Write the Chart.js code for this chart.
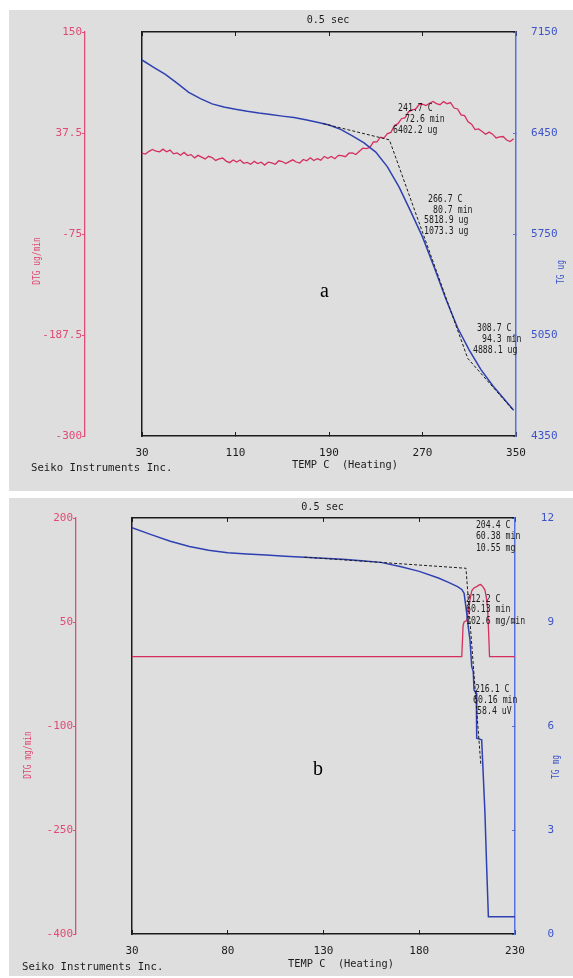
<!DOCTYPE html>
<html><head><meta charset="utf-8">
<script src="https://cdn.jsdelivr.net/npm/chart.js@4.4.1/dist/chart.umd.min.js"></script>
<style>
html,body{margin:0;padding:0;background:#fff;width:573px;height:978px;overflow:hidden;}
canvas{position:absolute;background:#dedede;}
#ca{left:9px;top:10px;}
#cb{left:9px;top:498px;}
</style></head><body>
<canvas id="ca" width="564" height="481"></canvas>
<canvas id="cb" width="564" height="478"></canvas>
<script>
// ---------- Panel a data ----------
const xTicksA = [30, 110, 190, 270, 350];
const dtgTicksA = [150, 37.5, -75, -187.5, -300];
const tgTicksA = [7150, 6450, 5750, 5050, 4350];

const tempA_TG = [30,40,50,60,70,80,90,100,110,120,130,140,150,160,170,180,190,200,210,220,230,240,250,260,270,280,290,300,310,320,330,340,348];
const tgA = [6956,6905,6856,6795,6732,6688,6652,6630,6614,6600,6588,6578,6567,6557,6542,6525,6505,6475,6430,6382,6318,6215,6075,5905,5730,5520,5300,5100,4945,4810,4700,4605,4528];

const tempA_DTG = [30,33,36,39,42,45,48,51,54,57,60,63,66,69,72,75,78,81,84,87,90,93,96,99,102,105,108,111,114,117,120,123,126,129,132,135,138,141,144,147,150,153,156,159,162,165,168,171,174,177,180,183,186,189,192,195,198,201,204,207,210,213,216,219,222,225,228,231,234,237,240,243,246,249,252,255,258,261,264,267,270,273,276,279,282,285,288,291,294,297,300,303,306,309,312,315,318,321,324,327,330,333,336,339,342,345,348];
const dtgA = [15.2,14.0,17.1,19.1,17.2,16.5,19.5,16.6,18.4,14.3,15.3,12.7,15.9,12.4,13.4,9.8,12.6,10.7,8.6,11.5,10.2,7.0,8.6,9.6,6.2,4.5,7.5,5.1,7.4,3.8,4.8,2.7,5.9,3.4,4.9,1.8,5.1,4.2,2.6,6.5,5.7,3.5,5.6,7.6,5.2,4.0,8.0,6.6,9.9,6.8,8.8,7.2,11.4,9.4,11.4,8.8,12.6,12.2,11.1,15.0,15.2,13.5,17.1,20.6,20.2,21.5,27.5,27.6,32.9,31.8,36.8,38.2,45.9,47.9,53.4,54.3,61.1,63.2,64.1,69.0,69.7,68.0,70.6,72.6,70.2,69.0,72.5,70.1,71.4,65.3,64.3,57.7,56.9,49.9,47.4,41.3,42.1,39.2,36.1,38.5,36.2,32.0,33.1,33.6,29.7,28.0,31.0];

const tanA_T = [185, 241.7, 308.7, 348];
const tanA_TG = [6515, 6402.2, 4888.1, 4525];

const notesA = [
  ['241.7 C', 249.1, 6623], ['72.6 min', 255.1, 6547], ['6402.2 ug', 244.8, 6471],
  ['266.7 C', 274.7, 5993], ['80.7 min', 279.0, 5916], ['5818.9 ug', 271.3, 5842], ['1073.3 ug', 271.3, 5771],
  ['308.7 C', 316.6, 5098], ['94.3 min', 320.9, 5022], ['4888.1 ug', 313.2, 4946]
];

// ---------- Panel b data ----------
const xTicksB = [30, 80, 130, 180, 230];
const dtgTicksB = [200, 50, -100, -250, -400];
const tgTicksB = [12, 9, 6, 3, 0];

const tempB_TG = [30,40,50,60,70,80,90,100,110,120,130,140,150,160,170,180,190,195,200,202.2,203.4,203.9,204.8,205.6,206.5,207.4,208.2,208.6,209.8,210,212.6,214.3,215.2,216.1,230];
const tgB = [11.72,11.52,11.33,11.18,11.07,11.0,10.96,10.93,10.9,10.87,10.84,10.81,10.77,10.72,10.6,10.46,10.27,10.15,10.02,9.94,9.83,9.63,9.25,8.86,8.48,7.71,7.57,7.04,6.95,5.65,5.6,3.5,1.94,0.5,0.5];

const tempB_DTG = [30,202.2,202.9,203.4,204.8,205.6,206.5,207.4,208.5,210,211.3,212.1,213.2,214.3,215,215.7,216.3,216.7,230];
const dtgB = [0,0,45,50,52,65,82,95,99,101,103.5,104,101,96,86,70,30,0,0];

const tanB_T = [120, 204.4, 212.2];
const tanB_TG = [10.87, 10.55, 4.85];

const notesB = [
  ['204.4 C', 209.6, 11.80], ['60.38 min', 209.6, 11.46], ['10.55 mg', 209.6, 11.13],
  ['212.2 C', 204.4, 9.66], ['60.13 min', 204.4, 9.35], ['102.6 mg/min', 204.4, 9.03],
  ['216.1 C', 209.1, 7.07], ['60.16 min', 208.1, 6.75], ['58.4 uV', 210.2, 6.43]
];

// ---------- styling ----------
const RED = '#d42f5e', RED_AX = '#de4d78', RED_TXT = '#e04a74';
const BLUE = '#2f40b2', BLUE_AX = '#5572dc', BLUE_TXT = '#3d54c9';
const INK = '#1c1c1c';
const MONO = "'DejaVu Sans Mono', 'Liberation Mono', monospace";

function pts(xs, ys) { return xs.map((x, i) => ({ x: x, y: ys[i] })); }

function txt(ctx, s, x, y, o) {
  ctx.save();
  ctx.translate(x, y);
  if (o.rot) ctx.rotate(o.rot);
  ctx.scale(o.sx || 1, 1);
  ctx.font = (o.weight || 'normal') + ' ' + o.size + 'px ' + (o.family || MONO);
  ctx.fillStyle = o.color || INK;
  ctx.textAlign = o.align || 'left';
  ctx.textBaseline = 'middle';
  ctx.fillText(s, 0, 0);
  ctx.restore();
}

function noPad(s) { s.paddingTop = 0; s.paddingBottom = 0; s.paddingLeft = 0; s.paddingRight = 0; }

function panel(id, P) {
  const textPlugin = {
    id: 'txt_' + id,
    afterDraw(chart) {
      const ctx = chart.ctx, sx = chart.scales.x, sy = chart.scales.yTG;
      P.notes.forEach(n => txt(ctx, n[0], sx.getPixelForValue(n[1]), sy.getPixelForValue(n[2]), { size: 10, sx: 0.82, color: INK }));
      txt(ctx, '0.5 sec', P.secPos[0], P.secPos[1], { size: 11, sx: 0.92, align: 'center' });
      txt(ctx, 'TEMP C  (Heating)', P.tempPos[0], P.tempPos[1], { size: 11, sx: 0.94, align: 'center' });
      txt(ctx, 'Seiko Instruments Inc.', P.seikoPos[0], P.seikoPos[1], { size: 11, sx: 0.97, align: 'left' });
      txt(ctx, P.letter, P.letterPos[0], P.letterPos[1], { size: 20, family: "'Liberation Serif', 'DejaVu Serif', serif", align: 'center', color: '#000' });
      txt(ctx, P.leftTitle, P.leftTitlePos[0], P.leftTitlePos[1], { size: 11, sx: 0.72, align: 'center', rot: -Math.PI / 2, color: RED_TXT });
      txt(ctx, P.rightTitle, P.rightTitlePos[0], P.rightTitlePos[1], { size: 11, sx: 0.72, align: 'center', rot: -Math.PI / 2, color: BLUE_TXT });
    }
  };
  const tickFont = { family: MONO, size: 11 };
  return new Chart(document.getElementById(id), {
    type: 'line',
    data: {
      datasets: [
        { data: pts(P.tanT, P.tanV), yAxisID: 'yTG', borderColor: INK, borderWidth: 1, borderDash: [3, 2], pointRadius: 0, order: 0 },
        { data: pts(P.tgT, P.tg), yAxisID: 'yTG', borderColor: BLUE, borderWidth: 1.5, pointRadius: 0, order: 1 },
        { data: pts(P.dtgT, P.dtg), yAxisID: 'yDTG', borderColor: RED, borderWidth: 1.3, pointRadius: 0, order: 2 }
      ]
    },
    options: {
      responsive: false, animation: false, events: [],
      layout: { autoPadding: false, padding: { left: 0, right: P.padR, top: P.padT, bottom: 0 } },
      plugins: { legend: { display: false }, tooltip: { enabled: false }, title: { display: false } },
      scales: {
        x: {
          type: 'linear', position: 'bottom', min: P.xMin, max: P.xMax,
          afterBuildTicks: s => { s.ticks = P.xTicks.map(v => ({ value: v })); },
          afterFit: s => { s.height = P.xH; noPad(s); },
          ticks: { font: tickFont, color: INK, padding: P.xPad, maxRotation: 0, autoSkip: false, callback: v => String(v) },
          grid: { drawOnChartArea: false, drawTicks: true, tickLength: -4, color: INK, lineWidth: 1 },
          border: { color: INK, width: 1.5 }
        },
        xTop: {
          type: 'linear', position: 'top', min: P.xMin, max: P.xMax,
          afterBuildTicks: s => { s.ticks = P.xTicks.map(v => ({ value: v })); },
          afterFit: s => { s.height = 0; noPad(s); },
          ticks: { display: false },
          grid: { drawOnChartArea: false, drawTicks: true, tickLength: -4, color: INK, lineWidth: 1 },
          border: { color: INK, width: 1.5 }
        },
        yDTG: {
          type: 'linear', position: 'left', weight: 2, min: P.dtgMin, max: P.dtgMax,
          afterBuildTicks: s => { s.ticks = P.dtgTicks.map(v => ({ value: v })); },
          afterFit: s => { s.width = P.redW; noPad(s); },
          ticks: { font: tickFont, color: RED_TXT, padding: 0, callback: v => String(v) },
          grid: { drawOnChartArea: false, drawTicks: true, tickLength: 3, color: RED_AX, lineWidth: 1 },
          border: { color: RED_AX, width: 1.3 }
        },
        ySpacer: {
          type: 'linear', position: 'left', weight: 1,
          afterFit: s => { s.width = P.gapW; noPad(s); },
          ticks: { display: false },
          grid: { drawOnChartArea: false, drawTicks: false },
          border: { color: INK, width: 1.5 }
        },
        yTG: {
          type: 'linear', position: 'right', min: P.tgMin, max: P.tgMax,
          afterBuildTicks: s => { s.ticks = P.tgTicks.map(v => ({ value: v })); },
          afterFit: s => { s.width = P.blueW; noPad(s); },
          ticks: { font: tickFont, color: BLUE_TXT, padding: P.bluePad, crossAlign: 'far', callback: v => String(v) },
          grid: { drawOnChartArea: false, drawTicks: true, tickLength: -3, color: BLUE_AX, lineWidth: 1 },
          border: { color: BLUE_AX, width: 1.5 }
        }
      }
    },
    plugins: [textPlugin]
  });
}

panel('ca', {
  xTicks: xTicksA, dtgTicks: dtgTicksA, tgTicks: tgTicksA,
  xMin: 30, xMax: 350, dtgMin: -300, dtgMax: 150, tgMin: 4350, tgMax: 7150,
  tgT: tempA_TG, tg: tgA, dtgT: tempA_DTG, dtg: dtgA, tanT: tanA_T, tanV: tanA_TG, notes: notesA,
  padT: 22, padR: 15.5, xH: 55, redW: 76, gapW: 57, blueW: 41.5, xPad: 15, bluePad: 18,
  secPos: [319, 10], tempPos: [336, 455], seikoPos: [22, 458], letter: 'a', letterPos: [315.5, 282],
  leftTitle: 'DTG ug/min', leftTitlePos: [28, 251], rightTitle: 'TG ug', rightTitlePos: [552, 262]
});

panel('cb', {
  xTicks: xTicksB, dtgTicks: dtgTicksB, tgTicks: tgTicksB,
  xMin: 30, xMax: 230, dtgMin: -400, dtgMax: 200, tgMin: 0, tgMax: 12,
  tgT: tempB_TG, tg: tgB, dtgT: tempB_DTG, dtg: dtgB, tanT: tanB_T, tanV: tanB_TG, notes: notesB,
  padT: 20, padR: 19, xH: 42, redW: 67, gapW: 56, blueW: 39, xPad: 15, bluePad: 28.8,
  secPos: [313.6, 8.7], tempPos: [332, 466.3], seikoPos: [13, 469.3], letter: 'b', letterPos: [309, 272],
  leftTitle: 'DTG mg/min', leftTitlePos: [19, 257], rightTitle: 'TG mg', rightTitlePos: [547, 269]
});
</script>
</body></html>
